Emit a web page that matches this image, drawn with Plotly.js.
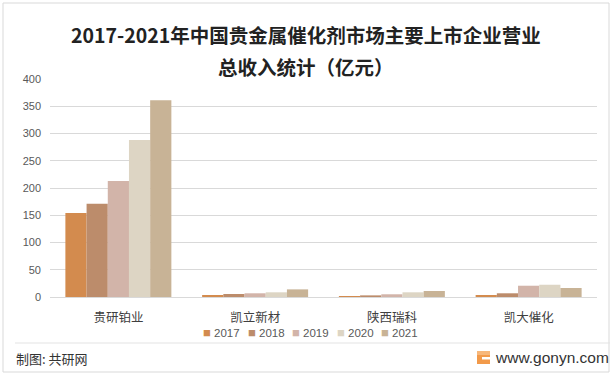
<!DOCTYPE html>
<html>
<head>
<meta charset="utf-8">
<script src="https://cdn.plot.ly/plotly-3.0.1.min.js"></script>
<style>html,body{margin:0;padding:0;background:#fff;}#chart{width:616px;height:376px;}</style>
</head>
<body>
<div id="chart"></div>
<script>
const companies = ['贵研铂业', '凯立新材', '陕西瑞科', '凯大催化'];
const years = ['2017', '2018', '2019', '2020', '2021'];
const v2017 = [154, 3.7, 1.8, 3.7];
const v2018 = [171, 5.5, 3.0, 6.8];
const v2019 = [213, 6.8, 5.0, 20.7];
const v2020 = [288, 8.6, 8.6, 22.5];
const v2021 = [361, 14.0, 11.0, 16.5];
const yTicks = [0, 50, 100, 150, 200, 250, 300, 350, 400];
const colors = ['#D38B4E', '#BC8C6B', '#D2B4A9', '#DDD5C4', '#C8B396'];
const series = [v2017, v2018, v2019, v2020, v2021];

const W = 616, H = 376, L = 50, R = 19, T = 79, B = 79;
const pw = W - L - R, ph = H - T - B;
const px = x => (x - L) / pw;
const py = y => (H - B - y) / ph;

const traces = series.map((vals, i) => ({
  type: 'bar', name: years[i], x: companies, y: vals,
  marker: {color: colors[i]}, hoverinfo: 'none', showlegend: false
}));

const cjk = '"Noto Sans CJK SC", "Microsoft YaHei", sans-serif';
const lat = '"Liberation Sans", Arial, sans-serif';

const legendAnns = years.map((yr, i) => ({
  text: '<span style="color:' + colors[i] + ';font-size:13px">■</span> ' + yr,
  xref: 'paper', yref: 'paper', x: px(201 + i * 44.5), y: py(332),
  xanchor: 'left', yanchor: 'middle', showarrow: false,
  font: {size: 11.5, color: '#595959', family: lat}
}));

const layout = {
  width: W, height: H,
  margin: {l: L, r: R, t: T, b: B},
  paper_bgcolor: '#fff', plot_bgcolor: '#fff',
  barmode: 'group', bargap: 0.225, bargroupgap: 0,
  font: {family: cjk, color: '#404040'},
  xaxis: {
    type: 'category', showgrid: false, zeroline: false,
    showline: false, ticks: '', tickfont: {size: 12.5, color: '#404040', family: cjk},
    ticklabelstandoff: 11
  },
  yaxis: {
    range: [0, 400], tickvals: yTicks, ticktext: yTicks.map(String),
    showgrid: true, gridcolor: '#d9d9d9', gridwidth: 1,
    zeroline: true, zerolinecolor: '#d9d9d9', zerolinewidth: 1, showline: false,
    tickfont: {size: 11, color: '#595959', family: lat},
    ticklabelstandoff: 8
  },
  showlegend: false,
  annotations: [
    {text: '<b>2017-2021年中国贵金属催化剂市场主要上市企业营业</b>', xref: 'paper', yref: 'paper',
     x: px(306), y: py(34), xanchor: 'center', yanchor: 'middle', showarrow: false,
     font: {size: 19.5, color: '#222', family: cjk}},
    {text: '<b>总收入统计（亿元）</b>', xref: 'paper', yref: 'paper',
     x: px(306), y: py(66), xanchor: 'center', yanchor: 'middle', showarrow: false,
     font: {size: 19.5, color: '#222', family: cjk}},
    {text: '制图: 共研网', xref: 'paper', yref: 'paper',
     x: px(14), y: py(358), xanchor: 'left', yanchor: 'middle', showarrow: false,
     font: {size: 13, color: '#333', family: cjk}},
    {text: 'www.gonyn.com', xref: 'paper', yref: 'paper',
     x: px(611), y: py(357), xanchor: 'right', yanchor: 'middle', showarrow: false,
     font: {size: 15.5, color: '#333', family: lat}}
  ].concat(legendAnns),
  shapes: [
    {type: 'rect', xref: 'paper', yref: 'paper', x0: px(3), x1: px(609), y0: py(3), y1: py(372),
     line: {color: '#d9d9d9', width: 1}, fillcolor: 'rgba(0,0,0,0)', layer: 'below'},
    {type: 'line', xref: 'paper', yref: 'paper', x0: px(15), x1: px(610), y0: py(343), y1: py(343),
     line: {color: '#e3e3e3', width: 1}},
    {type: 'rect', xref: 'paper', yref: 'paper', x0: px(477), x1: px(490), y0: py(351), y1: py(364),
     line: {width: 0}, fillcolor: '#F29A4A'},
    {type: 'rect', xref: 'paper', yref: 'paper', x0: px(477), x1: px(490), y0: py(351), y1: py(355),
     line: {width: 0}, fillcolor: '#F7B77A'},
    {type: 'rect', xref: 'paper', yref: 'paper', x0: px(482), x1: px(490), y0: py(357), y1: py(359.5),
     line: {width: 0}, fillcolor: '#ffffff'}
  ]
};

Plotly.newPlot('chart', traces, layout, {displayModeBar: false, staticPlot: true});
</script>
</body>
</html>
